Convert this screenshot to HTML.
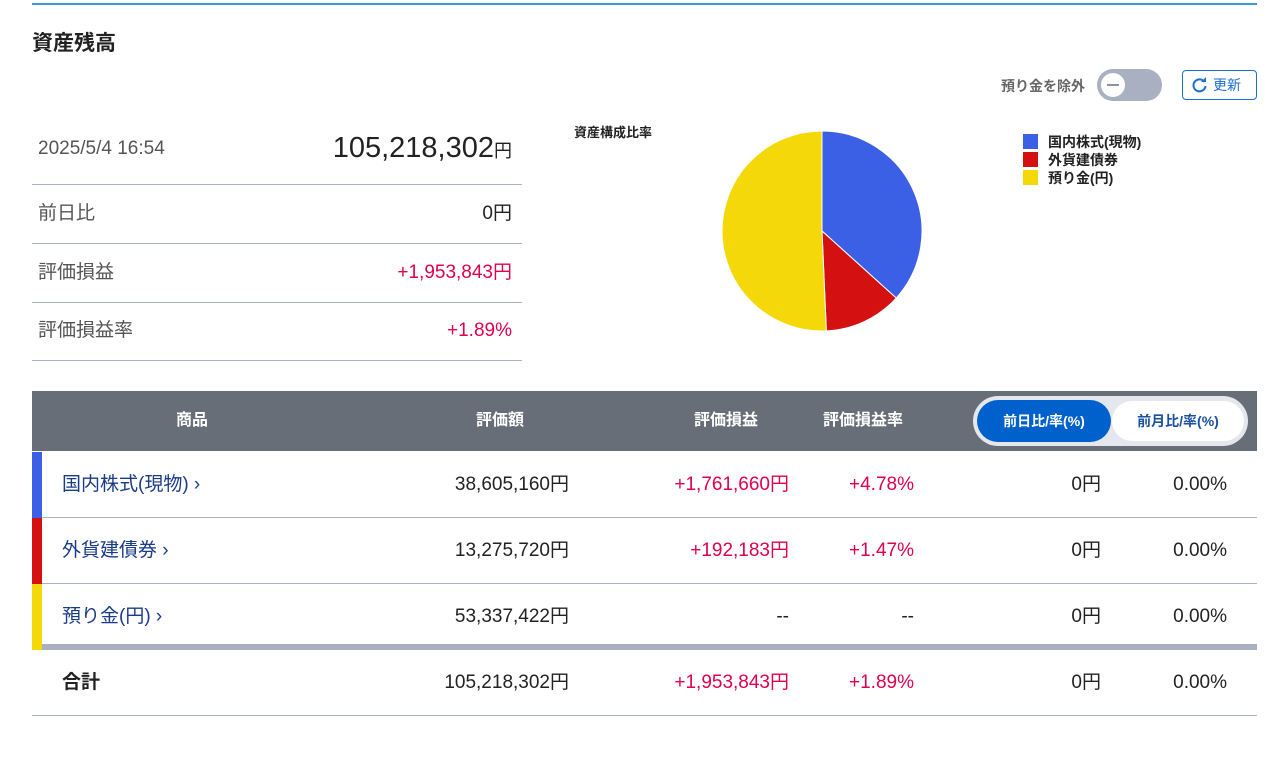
<!DOCTYPE html>
<html><head><meta charset="utf-8"><style>
*{box-sizing:border-box;margin:0;padding:0}
body{width:1282px;height:775px;background:#fff;font-family:"Liberation Sans","Noto Sans CJK JP",sans-serif;color:#222;position:relative;overflow:hidden}
.abs{position:absolute}
.row{position:absolute;left:32px;width:490px;border-bottom:1px solid #a9b4c2;font-size:19px;color:#555}
.row .v{position:absolute;right:10px;color:#222}
.pk{color:#e0004e!important}
.th{position:absolute;top:391px;height:60px;line-height:60px;color:#fff;font-weight:bold;font-size:16px}
.tr{position:absolute;left:32px;width:1225px;height:66px;border-bottom:1px solid #a9b4c2;font-size:19px}
.tr span{position:absolute;top:0;line-height:66px}
.bar{position:absolute;left:0;top:0;width:10px;height:66px}
.name{left:30px;color:#1a3a8a}
.r{text-align:right}
</style></head><body>
<div class="abs" style="left:32px;top:3px;width:1225px;height:2px;background:#3a9ad9"></div>
<div class="abs" style="left:32px;top:27px;font-size:21px;font-weight:bold;color:#222">資産残高</div>
<div class="abs" style="left:1001px;top:76px;font-size:14px;font-weight:bold;color:#666">預り金を除外</div>
<div class="abs" style="left:1097px;top:69px;width:65px;height:32px;border-radius:16px;background:#a9b0c2"><div style="position:absolute;left:2px;top:2px;width:28px;height:28px;border-radius:50%;background:#fff;border:2px solid #a9b0c2"><div style="position:absolute;left:6px;top:11px;width:12px;height:2px;background:#8a92a6"></div></div></div>
<div class="abs" style="left:1182px;top:70px;width:75px;height:30px;border:1px solid #1a6fd0;border-radius:4px;color:#1a6fd0;font-size:14px;line-height:28px;padding-left:30px">更新<svg style="position:absolute;left:8px;top:6px" width="17" height="17" viewBox="0 0 17 17"><path d="M13.5 5A6 6 0 1 0 14.5 9" fill="none" stroke="#1a6fd0" stroke-width="2"/><path d="M10 5h5V0z" fill="#1a6fd0"/></svg></div>

<div class="row" style="top:112px;height:73px;line-height:73px;padding-left:6px">2025/5/4 16:54<span class="v" style="font-size:29px">105,218,302<span style="font-size:18px">円</span></span></div>
<div class="row" style="top:185px;height:59px;line-height:58px;padding-left:6px">前日比<span class="v">0円</span></div>
<div class="row" style="top:244px;height:59px;line-height:58px;padding-left:6px">評価損益<span class="v pk">+1,953,843円</span></div>
<div class="row" style="top:303px;height:58px;line-height:56px;padding-left:6px">評価損益率<span class="v pk">+1.89%</span></div>

<div class="abs" style="left:574px;top:122px;font-size:13px;font-weight:bold">資産構成比率</div>
<svg class="abs" id="pie" style="left:700px;top:110px" width="250" height="250"></svg>
<div class="abs" id="legend" style="left:1023px;top:133px;font-size:14px;font-weight:bold;line-height:18px"></div>

<div class="abs" style="left:32px;top:391px;width:1225px;height:60px;background:#686e77"></div>
<div class="th" style="left:176px">商品</div>
<div class="th" style="left:476px">評価額</div>
<div class="th" style="left:694px">評価損益</div>
<div class="th" style="left:823px">評価損益率</div>
<div class="abs" style="left:973px;top:396px;width:275px;height:50px;border-radius:25px;background:#e4e7ee"></div>
<div class="abs" style="left:977px;top:400px;width:134px;height:42px;border-radius:21px;background:#0060cc;color:#fff;font-weight:bold;font-size:14px;text-align:center;line-height:42px">前日比/率(%)</div>
<div class="abs" style="left:1112px;top:401px;width:132px;height:40px;border-radius:20px;background:#fff;color:#1a50a0;font-weight:bold;font-size:14px;text-align:center;line-height:40px">前月比/率(%)</div>

<div class="tr" style="top:452px"><div class="bar" style="background:#3b5fe5"></div><span class="name">国内株式(現物) ›</span><span style="right:688px">38,605,160円</span><span class="pk" style="right:468px">+1,761,660円</span><span class="pk" style="right:343px">+4.78%</span><span style="right:156px">0円</span><span style="right:30px">0.00%</span></div>
<div class="tr" style="top:518px"><div class="bar" style="background:#d41010"></div><span class="name">外貨建債券 ›</span><span style="right:688px">13,275,720円</span><span class="pk" style="right:468px">+192,183円</span><span class="pk" style="right:343px">+1.47%</span><span style="right:156px">0円</span><span style="right:30px">0.00%</span></div>
<div class="tr" style="top:584px;height:66px;border-bottom:6px solid #a9b0c2"><div class="bar" style="background:#f5d80a"></div><span class="name">預り金(円) ›</span><span style="right:688px">53,337,422円</span><span style="right:468px">--</span><span style="right:343px">--</span><span style="right:156px">0円</span><span style="right:30px">0.00%</span></div>
<div class="tr" style="top:650px"><span style="left:30px;font-weight:bold">合計</span><span style="right:688px">105,218,302円</span><span class="pk" style="right:468px">+1,953,843円</span><span class="pk" style="right:343px">+1.89%</span><span style="right:156px">0円</span><span style="right:30px">0.00%</span></div>

<script>
const categories=["国内株式(現物)","外貨建債券","預り金(円)"];
const values=[38605160,13275720,53337422];
const colors=["#3b5fe5","#d41010","#f5d80a"];
const svg=document.getElementById('pie');
const cx=122,cy=121,r=100,NS="http://www.w3.org/2000/svg";
const total=values.reduce((a,b)=>a+b,0);
let a0=-Math.PI/2;
values.forEach((v,i)=>{
  const a1=a0+v/total*2*Math.PI;
  const p=document.createElementNS(NS,'path');
  const large=(a1-a0)>Math.PI?1:0;
  p.setAttribute('d',`M${cx},${cy}L${cx+r*Math.cos(a0)},${cy+r*Math.sin(a0)}A${r},${r} 0 ${large} 1 ${cx+r*Math.cos(a1)},${cy+r*Math.sin(a1)}Z`);
  p.setAttribute('fill',colors[i]);p.setAttribute('stroke','#fff');p.setAttribute('stroke-width','1');
  
  
  svg.appendChild(p);a0=a1;
});
const lg=document.getElementById('legend');
categories.forEach((c,i)=>{
  const d=document.createElement('div');
  
  
  d.innerHTML=`<span style="display:inline-block;width:15px;height:15px;background:${colors[i]};vertical-align:-2px;margin-right:10px"></span>${c}`;
  lg.appendChild(d);
});
</script>
</body></html>
